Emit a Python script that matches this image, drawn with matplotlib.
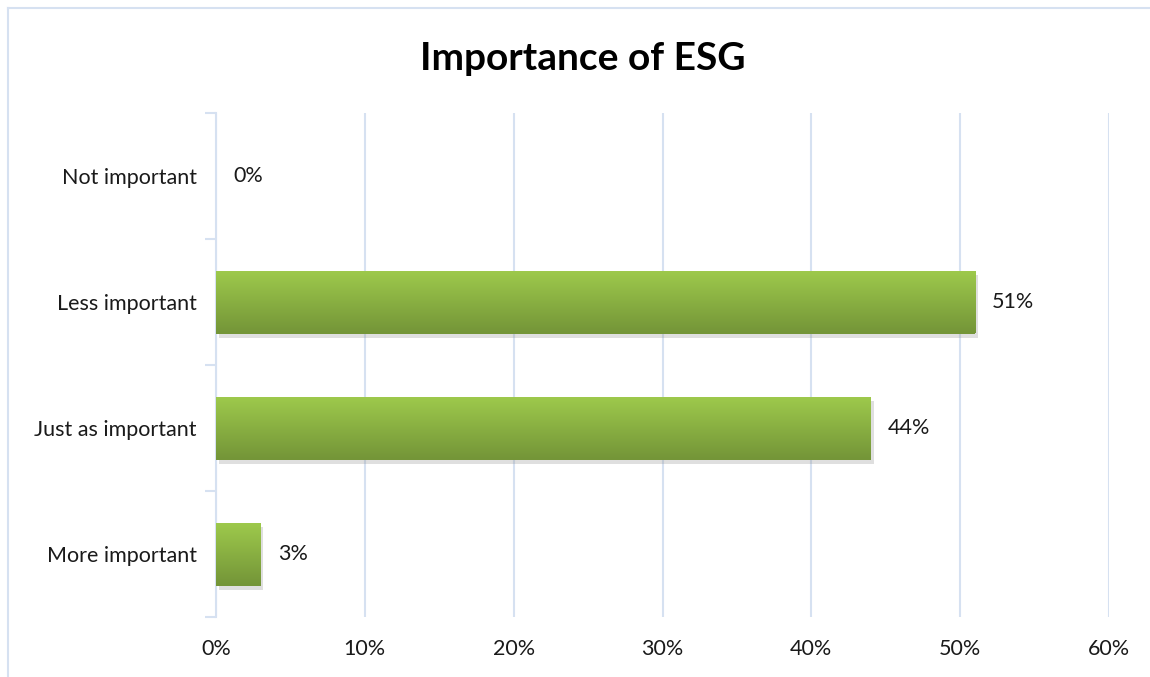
import matplotlib
matplotlib.use("Agg")
import matplotlib.pyplot as plt
import matplotlib.patheffects as pe
from matplotlib.lines import Line2D
import numpy as np

categories = ["Not important", "Less important", "Just as important", "More important"]
values = [0, 51, 44, 3]
xticks = [0, 10, 20, 30, 40, 50, 60]
xtick_labels = ["0%", "10%", "20%", "30%", "40%", "50%", "60%"]
title = "Importance of ESG"

plt.rcParams['font.family'] = ['Lato', 'DejaVu Sans']

fig = plt.figure(figsize=(11.5, 6.77), dpi=100)
ax = fig.add_axes([216/1150, 1-617/677, (1109-216)/1150, (617-113)/677])

grid_c = "#D6E1F1"
top_c = np.array([0x9E, 0xCA, 0x4C]) / 255
bot_c = np.array([0x74, 0x95, 0x38]) / 255
grad = np.linspace(0, 1, 256)[:, None]
cols = top_c[None, None, :] * (1 - grad[:, :, None]) + bot_c[None, None, :] * grad[:, :, None]

ypos = np.arange(len(categories))
h = 0.5
bars = ax.barh(ypos, values, height=h, color=bot_c, zorder=3,
               path_effects=[pe.SimplePatchShadow(offset=(2, -3), shadow_rgbFace=(0.55, 0.55, 0.55), alpha=0.28), pe.Normal()])
for b, v in zip(bars, values):
    if v <= 0:
        continue
    x0, y0 = b.get_x(), b.get_y()
    w, hh = b.get_width(), b.get_height()
    im = ax.imshow(cols, extent=[x0, x0 + w, y0 + hh, y0], aspect='auto', zorder=4, interpolation='bilinear')
    im.set_clip_path(b)

for yp, v in zip(ypos, values):
    ax.text(v + 1.15, yp, f"{v}%", va='center', ha='left', fontsize=15.5, color='#1a1a1a', zorder=5)

ax.set_xlim(0, 60)
ax.set_ylim(len(categories) - 0.5, -0.5)
ax.set_xticks(xticks)
ax.set_xticklabels(xtick_labels, fontsize=15.5, color='#1a1a1a')
ax.set_yticks(ypos)
ax.set_yticklabels(categories, fontsize=15.5, color='#1a1a1a')
ax.tick_params(axis='y', length=0, pad=14)
ax.tick_params(axis='x', length=0, pad=16)
ax.set_yticks(np.arange(-0.5, len(categories), 1), minor=True)
ax.tick_params(axis='y', which='minor', length=8, width=1.5, color=grid_c)
ax.grid(axis='x', color=grid_c, linewidth=1.5, zorder=0)
ax.set_axisbelow(True)
for s in ['top', 'right', 'bottom']:
    ax.spines[s].set_visible(False)
ax.spines['left'].set_color(grid_c)
ax.spines['left'].set_linewidth(1.5)
ax.spines['left'].set_zorder(2)

fig.text(583/1150, 1-58/677, title, ha='center', va='center', fontsize=28, fontweight='bold', color='#000000')

# outer frame
bx, by = 8/1150, 1-8/677
fig.add_artist(Line2D([bx, 1.01], [by, by], transform=fig.transFigure, color=grid_c, lw=1.5))
fig.add_artist(Line2D([bx, bx], [by, -0.01], transform=fig.transFigure, color=grid_c, lw=1.5))

fig.savefig("out.png", dpi=100, facecolor='white')
